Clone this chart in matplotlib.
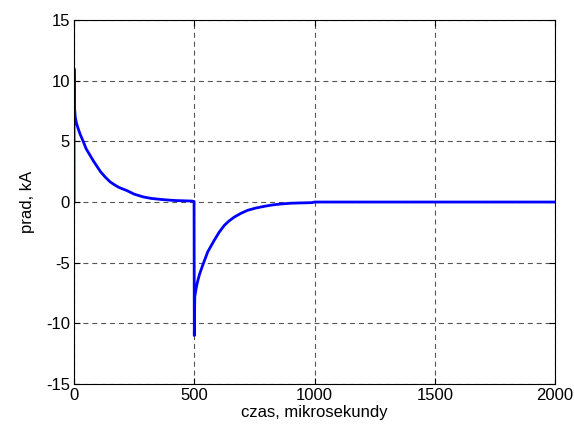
import matplotlib
matplotlib.use("Agg")
import matplotlib.pyplot as plt

# time in microseconds, current in kA
czas = [0, 0, 2, 5, 10, 18, 25, 38, 50, 65, 80, 95, 110, 130, 150, 168, 185, 202, 219,
        250, 288, 320, 358, 400, 427, 460, 490, 499, 500, 502, 506, 513, 521, 535, 556,
        583, 603, 625, 645, 667, 695, 722, 755, 792, 825, 861, 900, 931, 990, 1000, 2000]
prad = [0, 11.0, 7.8, 7.0, 6.5, 6.0, 5.6, 5.0, 4.4, 3.9, 3.4, 2.95, 2.5, 2.05, 1.66,
        1.42, 1.22, 1.08, 0.95, 0.65, 0.42, 0.3, 0.22, 0.15, 0.12, 0.1, 0.08, 0.05,
        -11.0, -7.8, -7.3, -6.6, -6.0, -5.2, -4.1, -3.15, -2.5, -1.92, -1.55, -1.23,
        -0.92, -0.68, -0.5, -0.35, -0.24, -0.16, -0.1, -0.08, -0.05, 0, 0]

xticks = [0, 500, 1000, 1500, 2000]
yticks = [-15, -10, -5, 0, 5, 10, 15]

plt.rcParams['font.family'] = ['Liberation Sans', 'DejaVu Sans']
plt.rcParams['axes.unicode_minus'] = False

fig = plt.figure(figsize=(5.74, 4.34), dpi=100)
ax = fig.add_axes([0.129, 0.115, 0.838, 0.839])
ax.plot(czas, prad, color=(0, 0, 1), linewidth=2.0)
ax.set_xlim(0, 2000)
ax.set_ylim(-15, 15)
ax.set_xticks(xticks)
ax.set_yticks(yticks)
ax.tick_params(direction='in', labelsize=12, length=4, top=True, right=True, pad=3)
ax.grid(True, color='#555555', linestyle=(0, (4.5, 3.5)), linewidth=0.8)
for s in ax.spines.values():
    s.set_linewidth(0.8)
ax.set_xlabel('czas, mikrosekundy', fontsize=12, labelpad=1)
ax.set_ylabel('prad, kA', fontsize=12, labelpad=8)
fig.savefig('out.png', dpi=100)
